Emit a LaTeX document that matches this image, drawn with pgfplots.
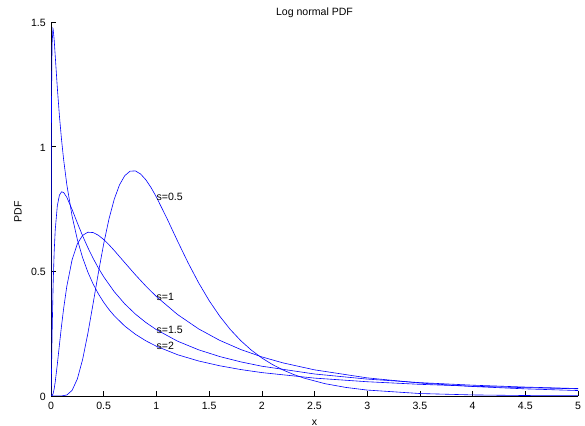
\documentclass[border=0pt]{standalone}
\usepackage{pgfplots}
\pgfplotsset{compat=1.18}
\usepackage{fontspec}
\setmainfont{Liberation Sans}
\begin{document}
\begin{tikzpicture}
\useasboundingbox (0,0) rectangle (585bp,426bp);
\begin{axis}[
  name=ax,
  at={(51bp,30bp)}, anchor=south west,
  scale only axis, width=527bp, height=374bp,
  xmin=0, xmax=5, ymin=0, ymax=1.5,
  axis x line=bottom, axis y line=left,
  axis line style={-, black, line width=0.6bp},
  every tick/.style={black, line width=0.6bp},
  tick align=inside, major tick length=5bp,
  xtick={0,0.5,1,1.5,2,2.5,3,3.5,4,4.5,5},
  xticklabels={0,0.5,1,1.5,2,2.5,3,3.5,4,4.5,5},
  ytick={0,0.5,1,1.5},
  yticklabels={0,0.5,1,1.5},
  font=\fontsize{10.6}{12}\selectfont,
  xticklabel style={anchor=base, inner sep=0pt, yshift=-13.3bp},
  yticklabel style={anchor=east, inner sep=0pt, xshift=-5bp, yshift=-0.8bp},
]
% s = 0.5
\addplot[blue, line width=0.6bp, mark=none] coordinates {
(0,0) (0.1,0.0002) (0.15,0.0040) (0.2,0.0225) (0.25,0.0684) (0.3,0.1465) (0.35,0.2514)
(0.4,0.3720) (0.45,0.4954) (0.5,0.6104) (0.55,0.7098) (0.6,0.7891) (0.65,0.8469)
(0.7,0.8838) (0.75,0.9016) (0.8,0.9028) (0.85,0.8904) (0.9,0.8671) (0.95,0.8355)
(1,0.7979) (1.1,0.7123) (1.2,0.6221) (1.3,0.5348) (1.4,0.4545) (1.5,0.3829)
(1.6,0.3206) (1.7,0.2672) (1.8,0.2221) (1.9,0.1842) (2,0.1526) (2.1,0.1264)
(2.2,0.1046) (2.3,0.0866) (2.4,0.0718) (2.6,0.0494) (2.8,0.0342) (3,0.0238)
(3.5,0.0099) (4,0.0043) (4.5,0.0019) (5,0.0009)
};
% s = 1
\addplot[blue, line width=0.6bp, mark=none] coordinates {
(0,0) (0.01,0.0010) (0.02,0.0095) (0.03,0.0284) (0.04,0.0562) (0.06,0.1270)
(0.08,0.2053) (0.1,0.2815) (0.12,0.3511) (0.15,0.4399) (0.2,0.5461) (0.25,0.6104)
(0.3,0.6442) (0.35,0.6569) (0.4,0.6555) (0.45,0.6445) (0.5,0.6275) (0.55,0.6067)
(0.6,0.5836) (0.7,0.5348) (0.8,0.4864) (0.9,0.4408) (1,0.3989) (1.2,0.3270)
(1.4,0.2693) (1.6,0.2233) (1.8,0.1865) (2,0.1569) (2.2,0.1329) (2.5,0.1049)
(3,0.0727) (3.5,0.0520) (4,0.0381) (4.5,0.0286) (5,0.0219)
};
% s = 1.5
\addplot[blue, line width=0.6bp, mark=none] coordinates {
(0,0) (0.005,0.104) (0.01,0.239) (0.02,0.4434) (0.03,0.5768) (0.04,0.6650)
(0.06,0.7634) (0.08,0.8057) (0.1,0.8188) (0.12,0.8162) (0.15,0.7970) (0.2,0.7480)
(0.25,0.6941) (0.3,0.6424) (0.35,0.5949) (0.4,0.5518) (0.45,0.5130) (0.5,0.4781)
(0.6,0.4183) (0.7,0.3694) (0.8,0.3288) (0.9,0.2948) (1,0.2660) (1.2,0.2200)
(1.4,0.1853) (1.6,0.1583) (1.8,0.1369) (2,0.1195) (2.5,0.0883) (3,0.0678)
(3.5,0.0536) (4,0.0434) (4.5,0.0358) (5,0.0299)
};
% s = 2
\addplot[blue, line width=0.6bp, mark=none] coordinates {
(0.0004,0.237) (0.001,0.512) (0.002,0.798) (0.005,1.194) (0.01,1.408) (0.0183,1.474)
(0.02,1.472) (0.03,1.430) (0.04,1.365) (0.06,1.236) (0.08,1.123) (0.1,1.028)
(0.12,0.9477) (0.15,0.848) (0.2,0.7215) (0.25,0.6275) (0.3,0.5547) (0.35,0.4966)
(0.4,0.4490) (0.45,0.4093) (0.5,0.3757) (0.55,0.3468) (0.6,0.3218) (0.7,0.2804)
(0.8,0.2478) (0.9,0.2213) (1,0.1995) (1.2,0.1656) (1.4,0.1405) (1.6,0.1213)
(1.8,0.1061) (2,0.0939) (2.5,0.0718) (3,0.0572) (3.5,0.0468) (4,0.0392)
(4.5,0.0334) (5,0.0289)
};
\node[anchor=west, inner sep=0pt] at (axis cs:1,0.7979) {s=0.5};
\node[anchor=west, inner sep=0pt] at (axis cs:1,0.3989) {s=1};
\node[anchor=west, inner sep=0pt] at (axis cs:1,0.2660) {s=1.5};
\node[anchor=west, inner sep=0pt] at (axis cs:1,0.1995) {s=2};
\end{axis}
\node[anchor=base, inner sep=0pt, font=\fontsize{10.6}{12}\selectfont] at ([yshift=6.5bp]ax.north) {Log normal PDF};
\node[anchor=base, inner sep=0pt, font=\fontsize{10.6}{12}\selectfont] at ([yshift=-29bp]ax.south) {x};
\node[anchor=center, inner sep=0pt, rotate=90, font=\fontsize{10.6}{12}\selectfont] at ([xshift=-33bp, yshift=-3bp]ax.west) {PDF};
\end{tikzpicture}
\end{document}
